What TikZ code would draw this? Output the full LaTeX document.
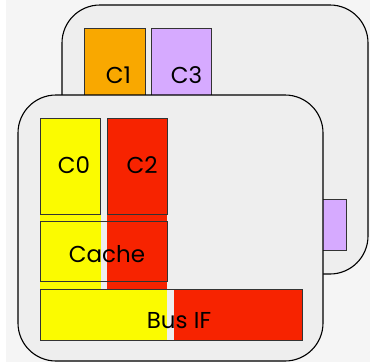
\documentclass[tikz,border=0pt]{standalone}
\usepackage{fontspec}
\setmainfont{Poppins}
\definecolor{bgc}{HTML}{F5F5F5}
\definecolor{cardc}{HTML}{EEEEEE}
\definecolor{ylw}{HTML}{FBFB00}
\definecolor{rd}{HTML}{F72300}
\definecolor{org}{HTML}{F9A800}
\definecolor{prp}{HTML}{D6AAFF}
\definecolor{edge}{HTML}{333333}
\tikzset{
  card/.style={draw=black, line width=1.1pt, fill=cardc, rounded corners=38pt, inner sep=0pt, outer sep=0pt},
  blk/.style={draw=edge, line width=0.9pt, inner sep=0pt, outer sep=0pt},
  lbl/.style={font=\fontsize{23}{26}\selectfont, inner sep=0pt, text=black}
}
\begin{document}
\begin{tikzpicture}[x=1pt,y=-1pt]
\useasboundingbox (0,0) rectangle (370,362);
\fill[white] (0,0) rectangle (370,362);
\fill[bgc] (6,0) rectangle (370,362);
% back card
\node[card, minimum width=306pt, minimum height=269pt] (back) at (215,139.5) {};
\begin{scope}[shift={(44.5,-90)}]
  \fill[org] (40,118) rectangle (101,289);
  \fill[prp] (107,118) rectangle (167,289);
  \node[blk, fill=org, minimum width=60.5pt, minimum height=96pt] (bC1) at (70.25,166) {};
  \node[blk, fill=prp, minimum width=60pt, minimum height=96pt] (bC3) at (137,166) {};
  \node[blk, minimum width=127pt, minimum height=60pt] (bcache) at (103.5,251) {};
  \fill[org] (40,289) rectangle (167,340);
  \fill[prp] (174,289) rectangle (302,340);
  \node[blk, minimum width=262pt, minimum height=51pt] (bbus) at (171,314.5) {};
  \node[lbl] (bC1t) at (74,165) {C1};
  \node[lbl] (bC3t) at (142,165) {C3};
\end{scope}
% front card
\node[card, minimum width=305pt, minimum height=266pt] (front) at (170.5,228) {};
\fill[ylw] (40,118) rectangle (101,289);
\fill[rd] (107,118) rectangle (167,289);
\node[blk, fill=ylw, minimum width=60.5pt, minimum height=96pt] (C0) at (70.25,166) {};
\node[blk, fill=rd, minimum width=60pt, minimum height=96pt] (C2) at (137,166) {};
\node[blk, minimum width=127pt, minimum height=60pt] (cache) at (103.5,251) {};
\fill[ylw] (40,289) rectangle (167,340);
\fill[rd] (174,289) rectangle (302,340);
\node[blk, minimum width=262pt, minimum height=51pt] (bus) at (171,314.5) {};
\node[lbl] (C0t) at (74,165) {C0};
\node[lbl] (C2t) at (142,165) {C2};
\node[lbl] (cachet) at (107,254.5) {Cache};
\node[lbl] (bust) at (179,320.5) {Bus IF};
\end{tikzpicture}
\end{document}
